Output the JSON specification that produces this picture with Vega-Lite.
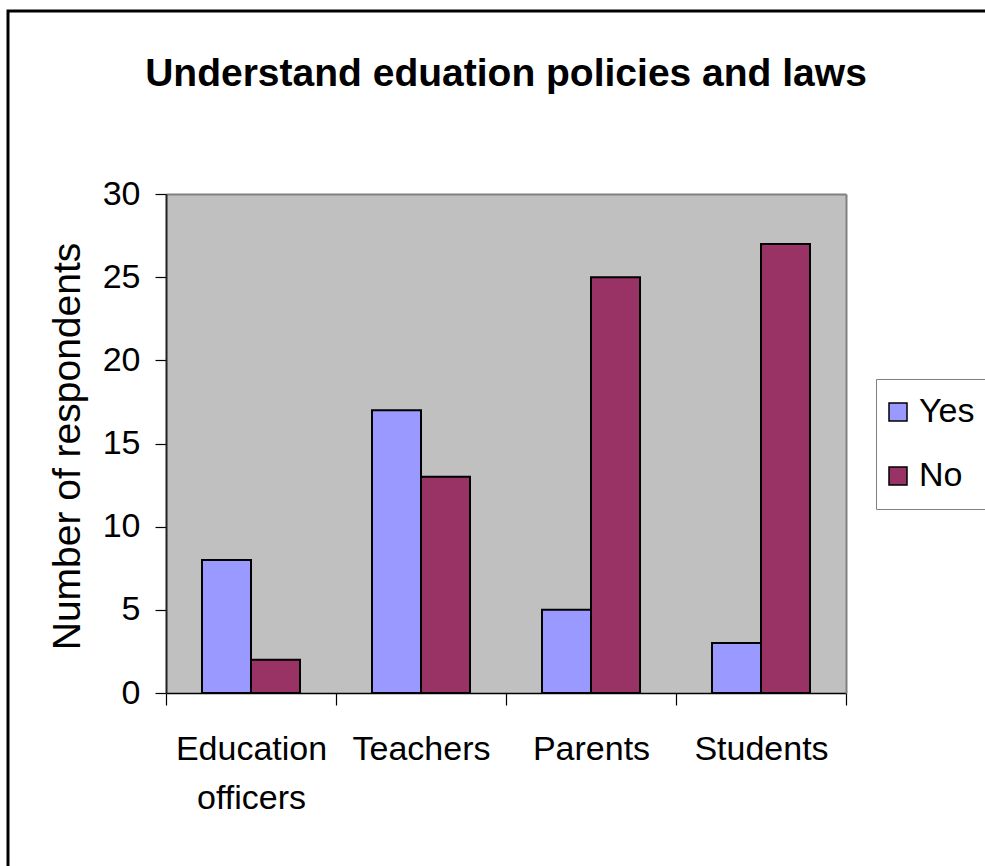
{
  "$schema": "https://vega.github.io/schema/vega-lite/v6.json",
  "width": 990,
  "height": 870,
  "autosize": {"type": "none"},
  "padding": {"left": 8, "top": 11, "right": 0, "bottom": 0},
  "background": "white",
  "title": {
    "text": "Understand eduation policies and laws",
    "font": "Liberation Sans",
    "fontSize": 39,
    "fontWeight": "bold",
    "color": "black",
    "anchor": "middle",
    "frame": "group",
    "baseline": "alphabetic",
    "offset": -76,
    "dx": 3,
    "dy": 38
  },
  "data": {
    "values": [
      {"Group": "Education officers", "Answer": "Yes", "Count": 8},
      {"Group": "Education officers", "Answer": "No", "Count": 2},
      {"Group": "Teachers", "Answer": "Yes", "Count": 17},
      {"Group": "Teachers", "Answer": "No", "Count": 13},
      {"Group": "Parents", "Answer": "Yes", "Count": 5},
      {"Group": "Parents", "Answer": "No", "Count": 25},
      {"Group": "Students", "Answer": "Yes", "Count": 3},
      {"Group": "Students", "Answer": "No", "Count": 27}
    ]
  },
  "layer": [
    {
      "mark": {"type": "rect", "fill": "#c0c0c0"},
      "encoding": {
        "x": {
          "field": "Group",
          "type": "nominal",
          "sort": ["Education officers", "Teachers", "Parents", "Students"],
          "scale": {"range": [158, 838], "paddingInner": 0, "paddingOuter": 0},
          "axis": {"orient": "top", "offset": -183, "domainColor": "#808080", "domainWidth": 2, "ticks": false, "labels": false, "title": null, "zindex": 1}
        },
        "y": {
          "datum": 0,
          "type": "quantitative",
          "scale": {"domain": [0, 30], "range": [682, 183], "nice": false, "zero": false},
          "axis": {"orient": "right", "offset": -152, "domainColor": "#808080", "domainWidth": 2, "ticks": false, "labels": false, "title": null, "zindex": 1}
        },
        "y2": {"datum": 30}
      }
    },
    {
      "mark": {"type": "bar", "stroke": "black", "strokeWidth": 2},
      "encoding": {
        "x": {
          "field": "Group",
          "type": "nominal",
          "sort": ["Education officers", "Teachers", "Parents", "Students"],
          "axis": {
            "orient": "bottom",
            "offset": -188,
            "domainColor": "black",
            "domainWidth": 1.5,
            "tickColor": "black",
            "tickSize": 12,
            "tickWidth": 1.2,
            "tickBand": "extent",
            "labelAngle": 0,
            "labelFontSize": 34,
            "labelColor": "black",
            "labelPadding": 27,
            "labelLineHeight": 49,
            "labelExpr": "datum.value == 'Education officers' ? ['Education', 'officers'] : datum.value",
            "title": null,
            "zindex": 1
          }
        },
        "xOffset": {
          "field": "Answer",
          "type": "nominal",
          "sort": ["Yes", "No"],
          "scale": {"paddingInner": 0, "paddingOuter": 0.7347}
        },
        "y": {
          "field": "Count",
          "type": "quantitative",
          "axis": {
            "orient": "left",
            "offset": -158,
            "values": [0, 5, 10, 15, 20, 25, 30],
            "domainColor": "#202020",
            "domainWidth": 2,
            "tickColor": "black",
            "tickSize": 11,
            "tickWidth": 1.2,
            "labelFontSize": 34,
            "labelColor": "black",
            "labelPadding": 15,
            "title": "Number of respondents",
            "titleFontSize": 39,
            "titleFontWeight": "normal",
            "titleColor": "black",
            "titleAngle": -90,
            "titleBaseline": "middle",
            "titleAlign": "center",
            "titleX": -99,
            "titleY": 435,
            "zindex": 1
          }
        },
        "color": {
          "field": "Answer",
          "type": "nominal",
          "sort": ["Yes", "No"],
          "scale": {"domain": ["Yes", "No"], "range": ["#9999ff", "#993366"]},
          "legend": {
            "orient": "none",
            "legendX": 868,
            "legendY": 368,
            "title": null,
            "strokeColor": "#808080",
            "fillColor": "white",
            "padding": 16,
            "labelFontSize": 34,
            "labelColor": "black",
            "symbolType": "square",
            "symbolSize": 324,
            "symbolStrokeColor": "black",
            "symbolStrokeWidth": 1.5,
            "symbolOpacity": 1,
            "symbolOffset": -11,
            "rowPadding": 30,
            "labelOffset": 4
          }
        }
      }
    }
  ],
  "resolve": {"axis": {"x": "independent", "y": "independent"}},
  "config": {
    "font": "Liberation Sans",
    "view": {"stroke": "black", "strokeWidth": 3},
    "axis": {"grid": false}
  }
}
